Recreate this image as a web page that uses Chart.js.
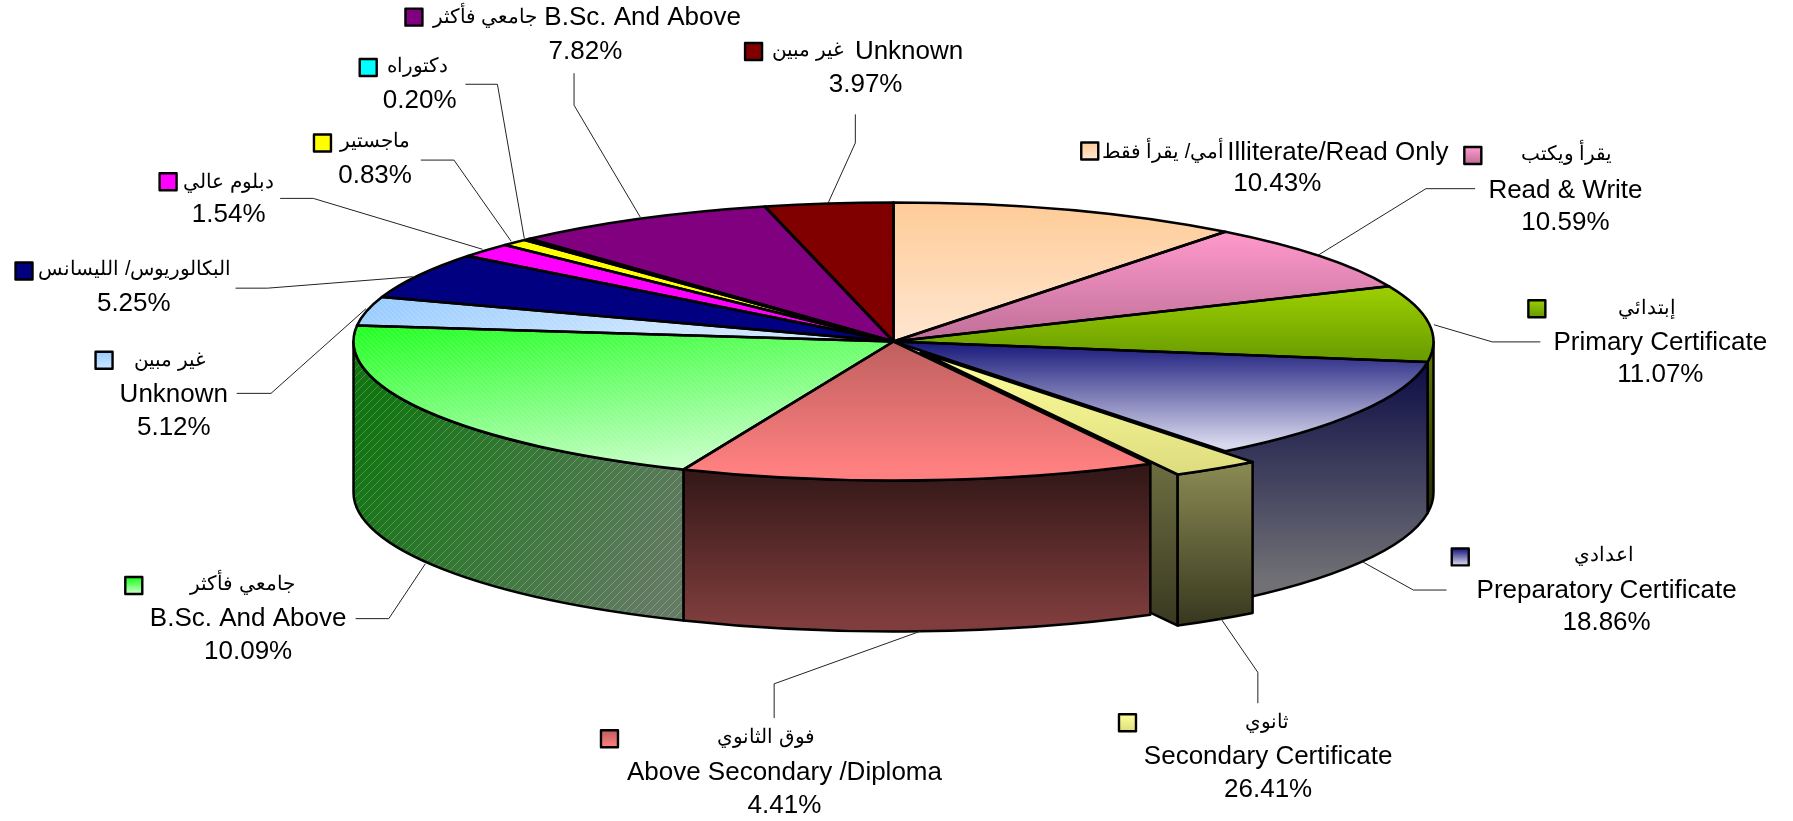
<!DOCTYPE html>
<html>
<head>
<meta charset="utf-8">
<style>html,body{margin:0;padding:0;background:#fff}canvas{display:block}</style>
<script src="https://cdn.jsdelivr.net/npm/chart.js@4/dist/chart.umd.js"></script>
</head>
<body>
<canvas id="c" width="1793" height="821"></canvas>
<script>
// ---- data ----
const englishLabels = ["Illiterate/Read Only","Read & Write","Primary Certificate","Preparatory Certificate","Secondary Certificate","Above Secondary /Diploma","B.Sc. And Above","Unknown","","","","","B.Sc. And Above","Unknown"];
const arabicLabels = ["أمي/ يقرأ فقط","يقرأ ويكتب","إبتدائي","اعدادي","ثانوي","فوق الثانوي","جامعي فأكثر","غير مبين","البكالوريوس/ الليسانس","دبلوم عالي","ماجستير","دكتوراه","جامعي فأكثر","غير مبين"];
const printedPercents = ["10.43%","10.59%","11.07%","18.86%","26.41%","4.41%","10.09%","5.12%","5.25%","1.54%","0.83%","0.20%","7.82%","3.97%"];
// share of the circle each slice covers in the drawing (differs from the printed labels)
const sliceShares = [10.53,7.97,8.86,12.11,2.64,14.25,20.47,3.36,5.36,1.67,0.81,0.20,7.94,3.83];
const sliceExplode = [0,0,0,0,0.0925,0,0,0,0,0,0,0,0,0];

// ---- layout and style ----
const RX = 540, RY = 139, DEPTH = 151;
const CX = 893.5, CY = 341.5;
// fills: [colour1, colour2, x1, y1, x2, y2] in page pixels
const topFills = [
 ["#FFCC99","#FFE6D0",0,205,0,341],
 ["#FF99CC","#BF6F98",0,232,0,341],
 ["#99CC00","#669900",0,292,0,364],
 ["#16167A","#D9D9EE",0,341,0,445],
 ["#FFFF99","#DDDD80",0,352,0,472],
 ["#BF5F5F","#FF8080",0,341,0,470],
 ["#16FF16","#CCFFCC",400,310,690,470],
 ["#99CCFF","#CCE5FF",385,300,640,340],
 ["#000080","#000080",0,0,0,1],
 ["#FF00FF","#FF00FF",0,0,0,1],
 ["#FFFF00","#FFFF00",0,0,0,1],
 ["#00FFFF","#00FFFF",0,0,0,1],
 ["#800080","#800080",0,0,0,1],
 ["#800000","#800000",0,0,0,1]
];
const wallFills = {
 2:["#667a00","#2a3300",0,341,0,490],
 3:["#0E0E46","#707075",0,365,0,580],
 4:["#878752","#393920",0,470,0,622],
 5:["#331717","#7F3D3D",0,470,0,622],
 6:["#127512","#637A63",380,400,680,560]
};
const innerFaceFill = ["#6B6B40","#3A3A22",0,470,0,622];
const hatchTop = {6:"rgba(255,255,255,.17)",7:"rgba(255,255,255,.2)"};
const hatchWall = {6:"rgba(255,255,255,.22)"};
// text rows: [label index, kind, centre x, centre y]; marker: [centre x, centre y]; leader: polyline
const S = 1793/1568;
const labelLayout = [
 {m:[953,132], t:[[0,"a",1017,133],[0,"e",1170,134],[0,"p",1117,161]], l:[]},
 {m:[1288,136], t:[[1,"a",1370,135],[1,"e",1369,167],[1,"p",1369,195]], l:[[1153,223],[1247,165],[1290,165]]},
 {m:[1344,270], t:[[2,"a",1440,270],[2,"e",1452,300],[2,"p",1452,328]], l:[[1254,284],[1305,299],[1347,299]]},
 {m:[1277,487], t:[[3,"a",1403,486],[3,"e",1405,517],[3,"p",1405,545]], l:[[1191,491],[1236,516],[1265,516]]},
 {m:[986,632], t:[[4,"a",1108,632],[4,"e",1109,662],[4,"p",1109,691]], l:[[1067,540],[1100,588],[1100,615]]},
 {m:[533,646], t:[[5,"a",670,645],[5,"e",686,676],[5,"p",686,705]], l:[[805,552],[677,598],[677,628]]},
 {m:[117,512], t:[[6,"a",212,511],[6,"e",217,541],[6,"p",217,570]], l:[[372,493],[340,541],[311,541]]},
 {m:[91,315], t:[[7,"a",148,315],[7,"e",152,345],[7,"p",152,374]], l:[[320,270],[237,344],[207,344]]},
 {m:[21,237], t:[[8,"a",118,236],[8,"p",117,266]], l:[[361,242],[234,252],[206,252]]},
 {m:[147,159], t:[[9,"a",200,160],[9,"p",200,188]], l:[[422,218],[274,173.5],[245,173.5]]},
 {m:[282,125], t:[[10,"a",328,124],[10,"p",328,154]], l:[[447,211],[397,140],[368,140]]},
 {m:[322,59], t:[[11,"a",365,58],[11,"p",367,88]], l:[[458.5,208.5],[435,73.7],[407,73.7]]},
 {m:[362,15], t:[[12,"a",424,15],[12,"e",562,16],[12,"p",512,45]], l:[[560,190],[502,92],[502,64]]},
 {m:[659,45], t:[[13,"a",706,44],[13,"e",795,45],[13,"p",757,74]], l:[[724,178],[748,125],[748,100]]}
];
const FONT_EN = '26px "Liberation Sans", Arial, sans-serif';
const FONT_AR = '20px "Liberation Sans", Arial, sans-serif';

function pageGradient(ctx, f){
  const g = ctx.createLinearGradient(f[2],f[3],f[4],f[5]);
  g.addColorStop(0,f[0]); g.addColorStop(1,f[1]);
  return g;
}
function arcInfo(el, i){
  const p = el.getProps(['x','y','startAngle','endAngle','outerRadius'],true);
  const sx = RX/p.outerRadius, sy = RY/p.outerRadius;
  const h = (p.startAngle+p.endAngle)/2;
  const ex = sliceExplode[i]||0;
  return {p, sx, sy, cx:p.x+Math.cos(h)*ex*RX, cy:p.y+Math.sin(h)*ex*RY};
}
function hatch(ctx, pathFn, color, spacing, dir){
  ctx.save();
  ctx.beginPath(); pathFn(); ctx.clip();
  ctx.strokeStyle = color; ctx.lineWidth = 1;
  ctx.beginPath();
  for(let k=-900;k<2700;k+=spacing){
    ctx.moveTo(k,0); ctx.lineTo(k+dir*821,821);
  }
  ctx.stroke();
  ctx.restore();
}
const pie3d = {
  id:'pie3d',
  beforeDatasetsDraw(chart){
    const ctx = chart.ctx, meta = chart.getDatasetMeta(0);
    // walls, right to front to left
    meta.data.forEach((el,i)=>{
      const a = arcInfo(el,i);
      const s = Math.max(a.p.startAngle,0), e = Math.min(a.p.endAngle,Math.PI);
      if(e<=s) return;
      if(sliceExplode[i]){
        const ax = a.cx+RX*Math.cos(e), ay = a.cy+RY*Math.sin(e);
        ctx.beginPath();
        ctx.moveTo(a.cx,a.cy); ctx.lineTo(ax,ay); ctx.lineTo(ax,ay+DEPTH); ctx.lineTo(a.cx,a.cy+DEPTH); ctx.closePath();
        ctx.fillStyle = pageGradient(ctx,innerFaceFill); ctx.fill();
        ctx.strokeStyle='#000'; ctx.lineWidth=2.5; ctx.stroke();
      }
      const path = ()=>{
        ctx.ellipse(a.cx,a.cy,RX,RY,0,s,e);
        ctx.ellipse(a.cx,a.cy+DEPTH,RX,RY,0,e,s,true);
        ctx.closePath();
      };
      ctx.beginPath(); path();
      ctx.fillStyle = pageGradient(ctx,wallFills[i]); ctx.fill();
      if(hatchWall[i]) hatch(ctx,path,hatchWall[i],8,-1);
      ctx.beginPath(); path();
      ctx.strokeStyle='#000'; ctx.lineWidth=2.5; ctx.lineJoin='round'; ctx.stroke();
    });
    // top faces: the library's own arc elements, squashed to an ellipse
    meta.data.forEach((el,i)=>{
      const a = arcInfo(el,i);
      ctx.save();
      ctx.translate(a.cx,a.cy); ctx.scale(a.sx,a.sy); ctx.translate(-a.p.x,-a.p.y);
      el.draw(ctx);
      ctx.restore();
      const path = ()=>{
        ctx.moveTo(a.cx,a.cy);
        ctx.ellipse(a.cx,a.cy,RX,RY,0,a.p.startAngle,a.p.endAngle);
        ctx.closePath();
      };
      if(hatchTop[i]) hatch(ctx,path,hatchTop[i],5,1);
    });
    meta.data.forEach((el,i)=>{
      const a = arcInfo(el,i);
      ctx.beginPath();
      ctx.moveTo(a.cx,a.cy);
      ctx.ellipse(a.cx,a.cy,RX,RY,0,a.p.startAngle,a.p.endAngle);
      ctx.closePath();
      ctx.strokeStyle='#000'; ctx.lineWidth=2.6; ctx.lineJoin='round'; ctx.stroke();
    });
    return false;
  },
  afterDraw(chart){
    const ctx = chart.ctx;
    ctx.save();
    ctx.textAlign='center'; ctx.textBaseline='middle'; ctx.fillStyle='#000';
    labelLayout.forEach((lab,i)=>{
      if(lab.l.length){
        ctx.beginPath();
        lab.l.forEach((q,k)=>{ k?ctx.lineTo(q[0]*S,q[1]*S):ctx.moveTo(q[0]*S,q[1]*S); });
        ctx.strokeStyle='#222'; ctx.lineWidth=1; ctx.stroke();
      }
      const mx=lab.m[0]*S, my=lab.m[1]*S, f=topFills[i];
      const g=ctx.createLinearGradient(0,my-8,0,my+8);
      g.addColorStop(0,f[0]); g.addColorStop(1,f[1]);
      ctx.fillStyle=g; ctx.fillRect(mx-8.5,my-8.5,17,17);
      ctx.strokeStyle='#000'; ctx.lineWidth=2.4; ctx.strokeRect(mx-8.5,my-8.5,17,17);
      ctx.fillStyle='#000';
      lab.t.forEach(r=>{
        const idx=r[0], kind=r[1];
        let s, font=FONT_EN;
        if(kind==='a'){ s=arabicLabels[idx]; font=FONT_AR; }
        else if(kind==='e') s=englishLabels[idx];
        else s=printedPercents[idx];
        ctx.font=font;
        ctx.fillText(s,r[2]*S,r[3]*S);
      });
    });
    ctx.restore();
  }
};
new Chart(document.getElementById('c'),{
  type:'pie',
  data:{labels:englishLabels.map((e,i)=>(arabicLabels[i]+' '+e).trim()),
    datasets:[{data:sliceShares,borderWidth:0,
      backgroundColor:(c)=>{
        const chart=c.chart, i=c.dataIndex;
        if(i===undefined||!chart.chartArea) return '#000';
        const R=Math.min(chart.chartArea.width,chart.chartArea.height)/2;
        const px=(chart.chartArea.left+chart.chartArea.right)/2, py=(chart.chartArea.top+chart.chartArea.bottom)/2;
        const sx=RX/R, sy=RY/R, f=topFills[i];
        const h=(()=>{let s=0;for(let k=0;k<i;k++)s+=sliceShares[k];const tot=sliceShares.reduce((a,b)=>a+b,0);return (s+sliceShares[i]/2)/tot*2*Math.PI-Math.PI/2;})();
        const ox=Math.cos(h)*(sliceExplode[i]||0)*RX, oy=Math.sin(h)*(sliceExplode[i]||0)*RY;
        const ux=x=>px+(x-CX-ox)/sx, uy=y=>py+(y-CY-oy)/sy;
        const g=chart.ctx.createLinearGradient(ux(f[2]),uy(f[3]),ux(f[4]),uy(f[5]));
        g.addColorStop(0,f[0]); g.addColorStop(1,f[1]);
        return g;
      }
    }]},
  options:{
    responsive:false, animation:false, devicePixelRatio:1,
    layout:{padding:{left:0,right:1793-2*CX,top:0,bottom:821-2*CY}},
    plugins:{legend:{display:false},tooltip:{enabled:false}}
  },
  plugins:[pie3d]
});
</script>
</body>
</html>
